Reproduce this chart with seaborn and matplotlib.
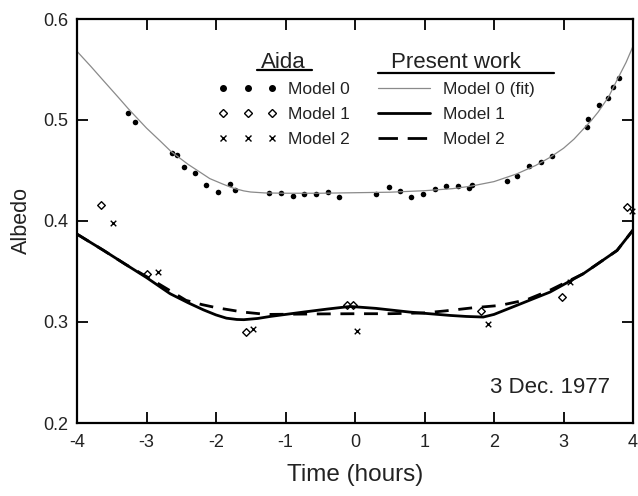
import numpy as np
import pandas as pd
import matplotlib
matplotlib.use("Agg")
import matplotlib.pyplot as plt
import seaborn as sns
from matplotlib.lines import Line2D

# ---- data ----
m0_t = [-3.26, -3.165, -2.638, -2.557, -2.456, -2.298, -2.14, -1.967, -1.803, -1.731,
        -1.233, -1.06, -0.888, -0.73, -0.561, -0.393, -0.235, 0.302, 0.485, 0.647,
        0.81, 0.974, 1.147, 1.309, 1.478, 1.636, 1.679, 2.183, 2.326, 2.504,
        2.672, 2.839, 3.343, 3.348, 3.515, 3.636, 3.707, 3.794]
m0_a = [0.507, 0.498, 0.467, 0.465, 0.453, 0.448, 0.436, 0.4285, 0.4364, 0.431,
        0.4278, 0.428, 0.4245, 0.4272, 0.4272, 0.429, 0.4235, 0.4268, 0.434, 0.4295,
        0.4235, 0.4268, 0.4314, 0.435, 0.435, 0.4324, 0.4357, 0.44, 0.445, 0.4548,
        0.4588, 0.4647, 0.4933, 0.5006, 0.5148, 0.5216, 0.5328, 0.542]

m1_t = [-3.66, -3.0, -1.573, -0.11, -0.024, 1.82, 2.98, 3.907]
m1_a = [0.416, 0.3478, 0.290, 0.3164, 0.3164, 0.3105, 0.3246, 0.4143]

m2_t = [-3.477, -2.83, -1.463, 0.033, 1.918, 3.095, 3.98]
m2_a = [0.3982, 0.3494, 0.2927, 0.291, 0.2983, 0.340, 0.410]

fit0_t = [-4.0, -3.8, -3.62, -3.4, -3.26, -3.0, -2.8, -2.65, -2.4, -2.2, -2.09, -1.9,
          -1.75, -1.6, -1.5, -1.3, -1.0, -0.5, 0.0, 0.5, 1.0, 1.4, 1.66, 2.0, 2.326,
          2.6, 2.806, 3.0, 3.15, 3.285, 3.4, 3.5, 3.65, 3.766, 3.9, 4.0]
fit0_a = [0.568, 0.553, 0.539, 0.522, 0.511, 0.492, 0.479, 0.469, 0.456, 0.447, 0.442, 0.4365,
          0.4325, 0.4298, 0.4287, 0.4278, 0.4275, 0.4275, 0.428, 0.4285, 0.430, 0.432, 0.4344,
          0.439, 0.4466, 0.455, 0.463, 0.472, 0.481, 0.491, 0.4995, 0.508, 0.523, 0.539,
          0.557, 0.573]

fit1_t = [-4.0, -3.62, -3.3, -3.0, -2.66, -2.4, -2.18, -2.0, -1.85, -1.7, -1.6, -1.4,
          -1.22, -0.745, -0.4, -0.07, 0.3, 0.79, 1.37, 1.6, 1.845, 2.0, 2.325, 2.805,
          3.285, 3.77, 4.0]
fit1_a = [0.387, 0.371, 0.357, 0.344, 0.328, 0.319, 0.312, 0.307, 0.3038, 0.3025, 0.3023,
          0.3035, 0.3055, 0.3098, 0.3128, 0.3154, 0.3135, 0.3098, 0.3065, 0.3055, 0.3049,
          0.3075, 0.3164, 0.3296, 0.3478, 0.3708, 0.391]

fit2_t = [-4.0, -3.62, -3.3, -3.0, -2.66, -2.43, -2.2, -1.99, -1.607, -1.27, -0.5, 0.0,
          0.5, 1.0, 1.3, 1.7, 2.085, 2.47, 2.8, 3.285, 3.77, 4.0]
fit2_a = [0.387, 0.371, 0.357, 0.345, 0.331, 0.3214, 0.3172, 0.3141, 0.3098, 0.3075, 0.308,
          0.3082, 0.3082, 0.309, 0.311, 0.3141, 0.3164, 0.322, 0.3313, 0.3478, 0.3708, 0.391]

x_ticks = [-4, -3, -2, -1, 0, 1, 2, 3, 4]
y_ticks = [0.2, 0.3, 0.4, 0.5, 0.6]
y_tick_labels = ["0.2", "0.3", "0.4", "0.5", "0.6"]

# ---- style ----
sns.set_style("ticks")
plt.rcParams['font.family'] = ['Liberation Sans', 'DejaVu Sans']

fig = plt.figure(figsize=(6.38, 4.96), dpi=100)
ax = fig.add_axes([77/638, 1 - 423/496, 556/638, 404/496])

d0 = pd.DataFrame({"t": m0_t, "a": m0_a})
d1 = pd.DataFrame({"t": m1_t, "a": m1_a})
d2 = pd.DataFrame({"t": m2_t, "a": m2_a})
f0 = pd.DataFrame({"t": fit0_t, "a": fit0_a})
f1 = pd.DataFrame({"t": fit1_t, "a": fit1_a})
f2 = pd.DataFrame({"t": fit2_t, "a": fit2_a})

sns.lineplot(data=f0, x="t", y="a", ax=ax, color="#8a8a8a", lw=0.9, sort=False,
             errorbar=None, legend=False)
sns.lineplot(data=f1, x="t", y="a", ax=ax, color="black", lw=2.0, sort=False,
             errorbar=None, legend=False)
ln1 = ax.lines[-1]
sns.lineplot(data=f2, x="t", y="a", ax=ax, color="black", lw=2.0, sort=False,
             errorbar=None, legend=False)
ln2 = ax.lines[-1]
ln2.set_dashes([5, 3.5])
for ln in (ln1, ln2):
    ln.set_solid_joinstyle("round")
    ln.set_dash_joinstyle("round")

sns.scatterplot(data=d0, x="t", y="a", ax=ax, color="black", marker="o", s=16,
                edgecolor="black", linewidth=0, legend=False, clip_on=False)
sns.scatterplot(data=d1, x="t", y="a", ax=ax, marker="D", s=15, facecolor="white",
                edgecolor="black", linewidth=1.0, legend=False, clip_on=False)
sns.scatterplot(data=d2, x="t", y="a", ax=ax, marker="x", s=16, color="black",
                linewidth=1.0, legend=False, clip_on=False)

ax.set_xlim(-4, 4)
ax.set_ylim(0.2, 0.6)
ax.set_xticks(x_ticks)
ax.set_xticklabels([str(v) for v in x_ticks])
ax.set_yticks(y_ticks)
ax.set_yticklabels(y_tick_labels)
ax.tick_params(direction="in", length=8, width=1.3, top=True, right=True,
               labelsize=13, color="black", labelcolor="#222222")
ax.tick_params(axis="x", pad=8)
ax.tick_params(axis="y", pad=6)
for sp in ax.spines.values():
    sp.set_visible(True)
    sp.set_linewidth(1.6)
    sp.set_color("black")

ax.set_xlabel("Time (hours)", fontsize=17.5, color="#222222", labelpad=9)
ax.set_ylabel("Albedo", fontsize=15.5, color="#222222", labelpad=8)

# legend proxies
h0 = Line2D([], [], ls="none", marker="o", ms=4, mfc="black", mec="black")
h1 = Line2D([], [], ls="none", marker="D", ms=3.8, mfc="white", mec="black", mew=1.0)
h2 = Line2D([], [], ls="none", marker="x", ms=4, mec="black", mew=1.0)
p0 = Line2D([], [], color="#8a8a8a", lw=0.9)
p1 = Line2D([], [], color="black", lw=2.0)
p2 = Line2D([], [], color="black", lw=2.0, dashes=[7, 3.5])

leg1 = ax.legend([h0, h1, h2], ["Model 0", "Model 1", "Model 2"], title="Aida",
                 loc="upper left", bbox_to_anchor=(0.235, 0.945), frameon=False,
                 numpoints=3, handlelength=3.4, handletextpad=0.6,
                 labelspacing=0.55, fontsize=12.5, title_fontsize=16, borderpad=0.1)
ax.add_artist(leg1)
leg2 = ax.legend([p0, p1, p2], ["Model 0 (fit)", "Model 1", "Model 2"], title="Present work",
                 loc="upper left", bbox_to_anchor=(0.522, 0.945), frameon=False,
                 handlelength=3.0, handletextpad=0.75, labelspacing=0.55,
                 fontsize=12.5, title_fontsize=16, borderpad=0.1)
for lg in (leg1, leg2):
    for t in lg.get_texts():
        t.set_color("#222222")
    lg.get_title().set_color("#222222")

# title underlines (decoration)
ax.add_line(Line2D([0.324, 0.4227], [0.874, 0.874], transform=ax.transAxes,
                   color="black", lw=1.6, clip_on=False))
ax.add_line(Line2D([0.541, 0.858], [0.866, 0.866], transform=ax.transAxes,
                   color="black", lw=1.6, clip_on=False))

ax.text(0.959, 0.087, "3 Dec. 1977", transform=ax.transAxes, ha="right", va="center",
        fontsize=16, color="#222222")

fig.savefig("out.png", dpi=100)
